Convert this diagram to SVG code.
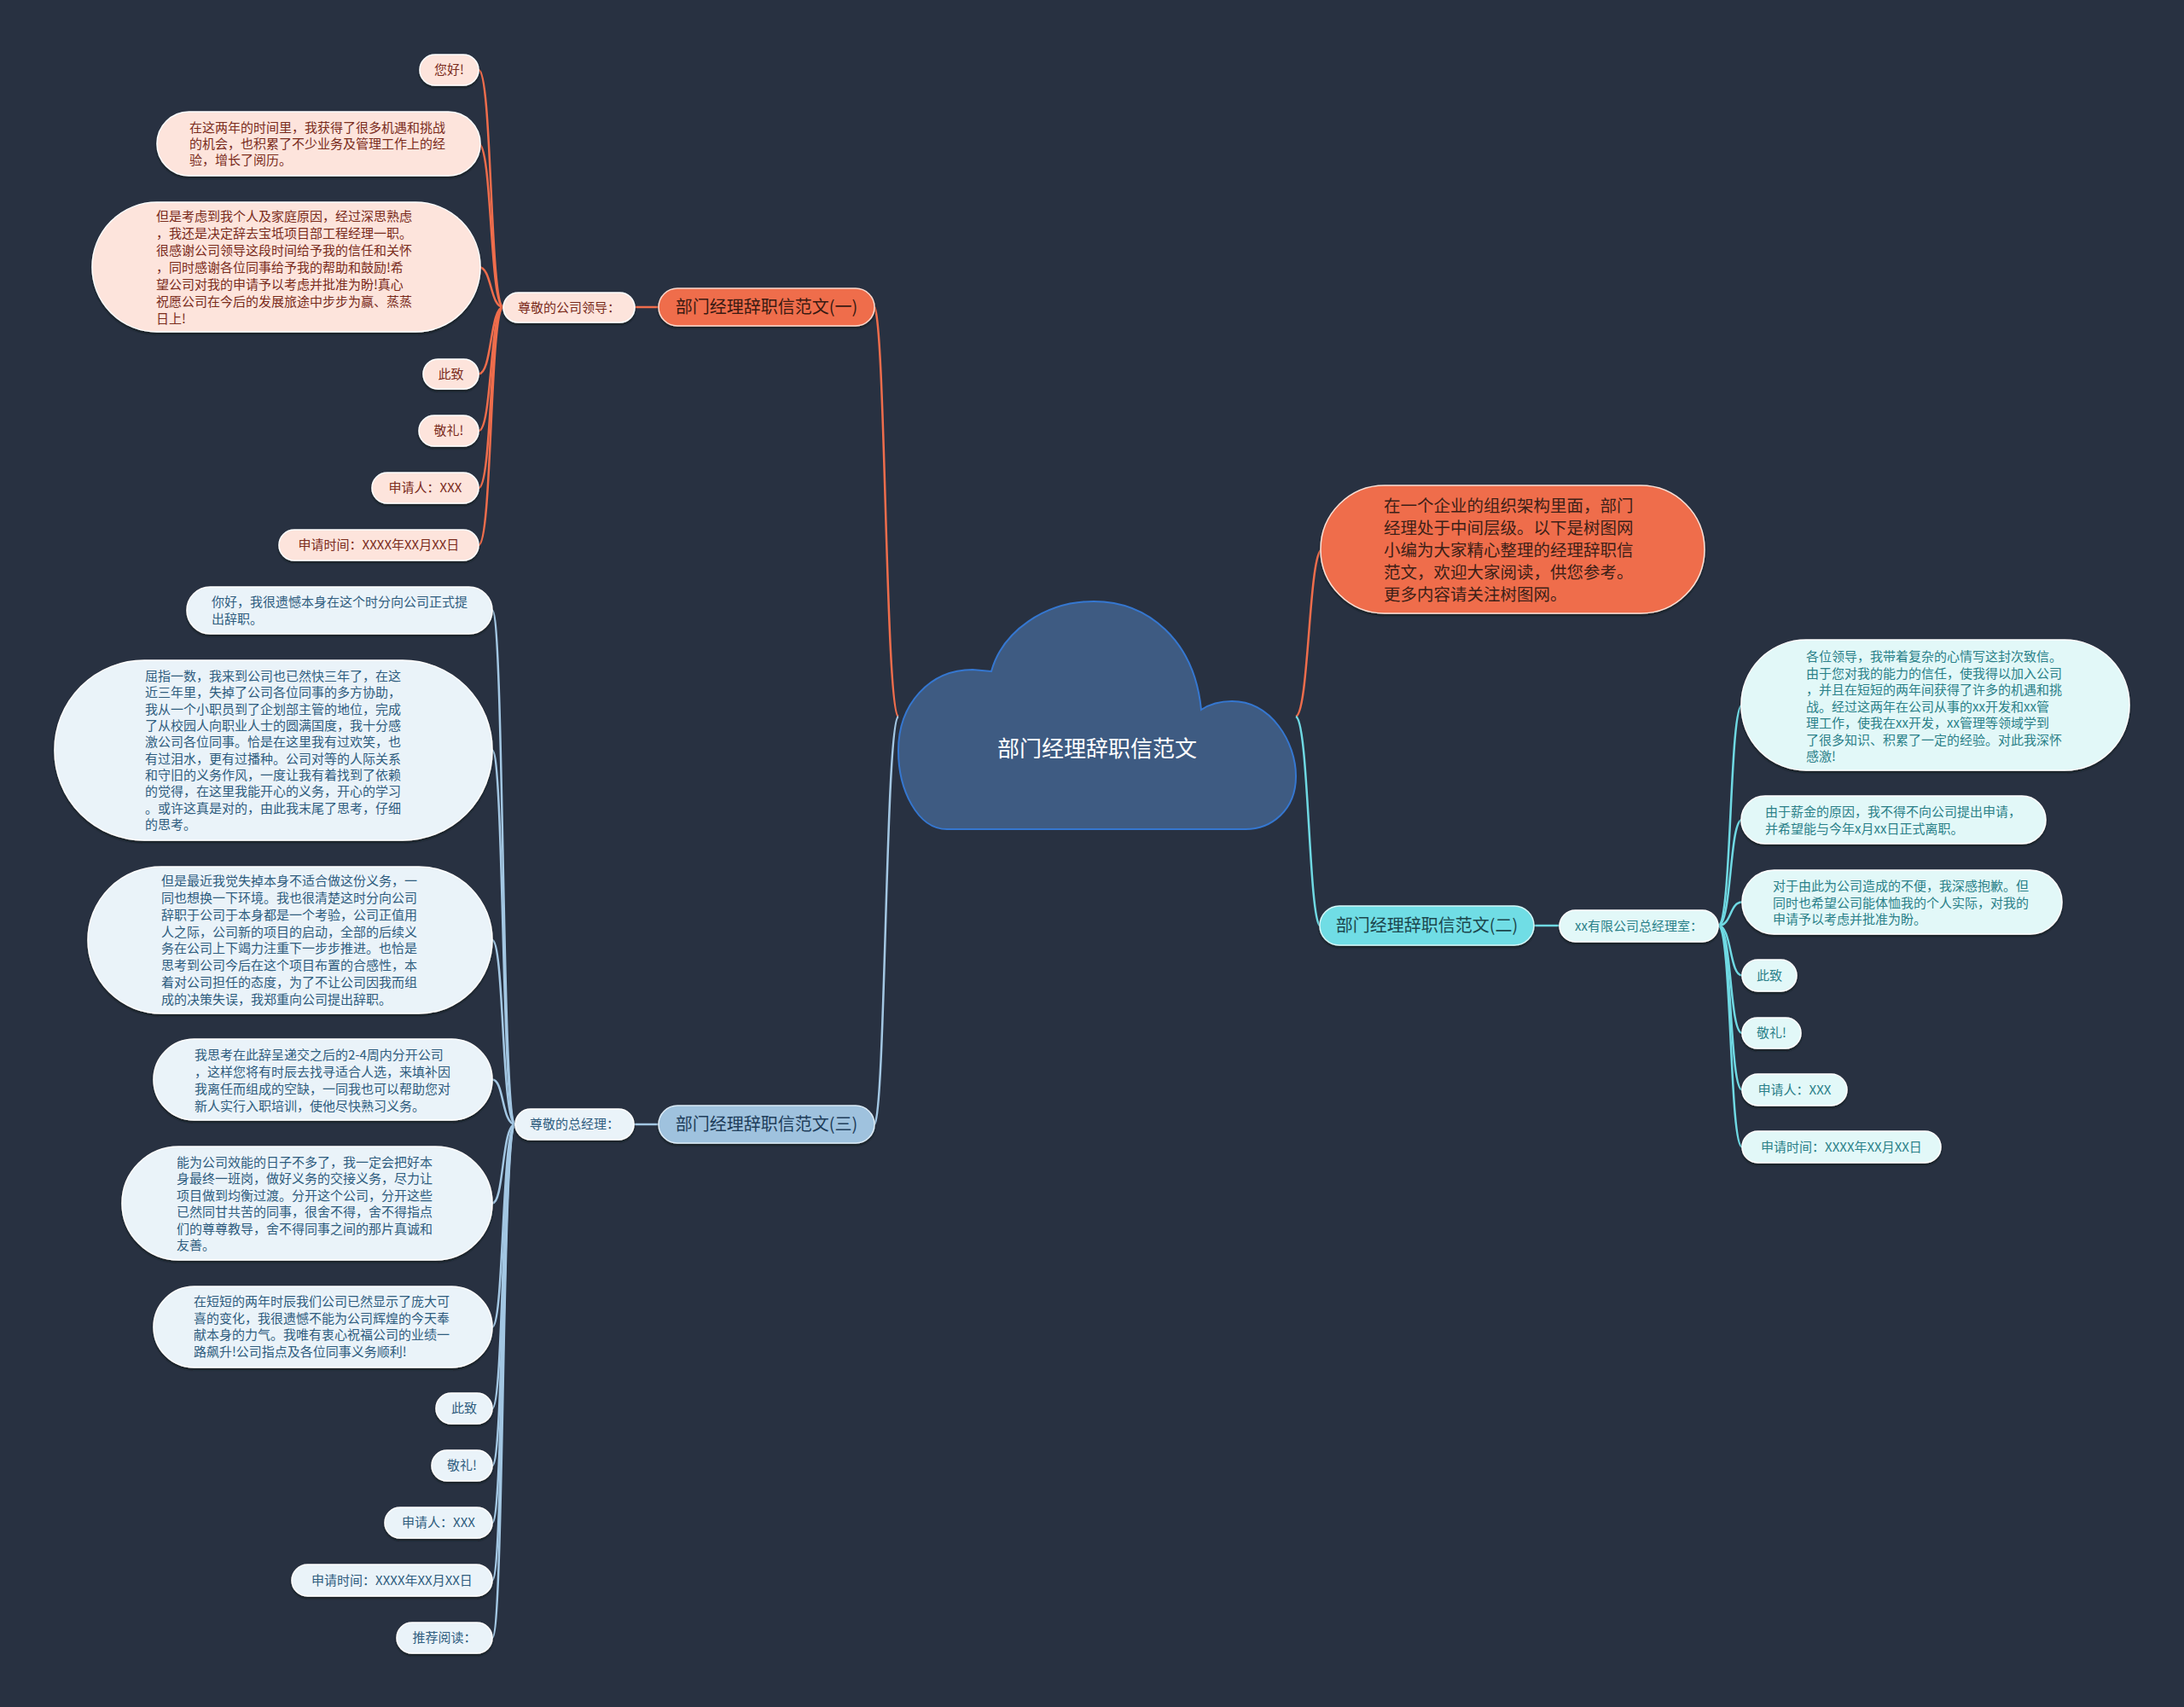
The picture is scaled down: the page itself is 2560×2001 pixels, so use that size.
<svg xmlns="http://www.w3.org/2000/svg" width="2560" height="2001" viewBox="0 0 2560 2001">
<defs>
<filter id="sh" x="-10%" y="-10%" width="120%" height="130%"><feDropShadow dx="0" dy="2" stdDeviation="1.2" flood-color="#10141c" flood-opacity="0.8"/></filter>
<style>
text{font-family:"Noto Sans CJK SC","Noto Sans",sans-serif;}
.c1{fill:none;stroke:#ef6d4c;stroke-width:2.5}
.c2{fill:none;stroke:#6fd9e3;stroke-width:2.5}
.c3{fill:none;stroke:#a3c7e3;stroke-width:2.5}
.m1{fill:#ef6d4c;stroke:#fbd8cc;stroke-width:1.5;filter:url(#sh)}
.l1{fill:#fde4dc;stroke:#ffffff;stroke-width:1.5;filter:url(#sh)}
.m2{fill:#70dde5;stroke:#d4f7f8;stroke-width:1.5;filter:url(#sh)}
.l2{fill:#e2f8f8;stroke:#ffffff;stroke-width:1.5;filter:url(#sh)}
.m3{fill:#9fc2de;stroke:#dcebf6;stroke-width:1.5;filter:url(#sh)}
.l3{fill:#eaf3f9;stroke:#ffffff;stroke-width:1.5;filter:url(#sh)}
.tm1{fill:#3a1a12;font-size:20px}
.tm2{fill:#1c474d;font-size:20px}
.tm3{fill:#1e3d5a;font-size:20px}
.t1{fill:#7a2b1b;font-size:15px}
.t2{fill:#2a8088;font-size:15px}
.t3{fill:#2e5c7e;font-size:15px}
.ti{fill:#3d1f17;font-size:19.5px}
.mid{text-anchor:middle}
</style>
</defs>
<rect x="0" y="0" width="2560" height="2001" fill="#283141"/>

<g id="connectors">
<path class="c1" d="M1053 840 C1038 835 1038 380 1025 360"/>
<path class="c1" d="M1519 840 C1534 835 1534 660 1548 645"/>
<path class="c2" d="M1519 840 C1534 845 1534 1075 1547 1085"/>
<path class="c3" d="M1053 840 C1038 845 1038 1305 1025 1318"/>
<path class="c1" d="M744 360 L772 360"/>
<path class="c2" d="M1798 1085 L1828 1085"/>
<path class="c3" d="M743 1318 L772 1318"/>
<path class="c1" d="M590 360 C574 360 577 82 561 82"/>
<path class="c1" d="M590 360 C574 360 577 168.5 561 168.5"/>
<path class="c1" d="M590 360 C574 360 577 313 561 313"/>
<path class="c1" d="M590 360 C574 360 577 438.5 561 438.5"/>
<path class="c1" d="M590 360 C574 360 577 505 561 505"/>
<path class="c1" d="M590 360 C574 360 577 572 561 572"/>
<path class="c1" d="M590 360 C574 360 577 639 561 639"/>
<path class="c2" d="M2014 1085 C2030 1085 2027 826.5 2042 826.5"/>
<path class="c2" d="M2014 1085 C2030 1085 2027 961 2042 961"/>
<path class="c2" d="M2014 1085 C2030 1085 2027 1057.5 2042 1057.5"/>
<path class="c2" d="M2014 1085 C2030 1085 2027 1143.5 2042 1143.5"/>
<path class="c2" d="M2014 1085 C2030 1085 2027 1211 2042 1211"/>
<path class="c2" d="M2014 1085 C2030 1085 2027 1277.5 2042 1277.5"/>
<path class="c2" d="M2014 1085 C2030 1085 2027 1344.5 2042 1344.5"/>
<path class="c3" d="M604 1318 C588 1318 591 715.5 577 715.5"/>
<path class="c3" d="M604 1318 C588 1318 591 879.5 577 879.5"/>
<path class="c3" d="M604 1318 C588 1318 591 1102 577 1102"/>
<path class="c3" d="M604 1318 C588 1318 591 1265.5 577 1265.5"/>
<path class="c3" d="M604 1318 C588 1318 591 1410.5 577 1410.5"/>
<path class="c3" d="M604 1318 C588 1318 591 1555.5 577 1555.5"/>
<path class="c3" d="M604 1318 C588 1318 591 1651 577 1651"/>
<path class="c3" d="M604 1318 C588 1318 591 1718 577 1718"/>
<path class="c3" d="M604 1318 C588 1318 591 1785 577 1785"/>
<path class="c3" d="M604 1318 C588 1318 591 1852.5 577 1852.5"/>
<path class="c3" d="M604 1318 C588 1318 591 1920 577 1920"/>
</g>

<g id="root">
<path d="M1110 972 C1075 972 1053 925 1053 880 C1053 825 1090 785 1140 785 L1162 787 C1175 740 1225 705 1282 705 C1345 705 1400 750 1408 832 C1420 824 1432 822 1444 822 C1490 822 1519 870 1519 910 C1519 950 1490 972 1460 972 Z" fill="#3e5b82" stroke="#3577d0" stroke-width="2"/>
<text class="mid" x="1286" y="887" fill="#ffffff" font-size="26">部门经理辞职信范文</text>
</g>

<g id="intro">
<rect x="1548" y="569" width="450" height="150" rx="75" fill="#ef6d4c" stroke="#fbe0d6" stroke-width="1.5" filter="url(#sh)"/>
<text class="ti"><tspan x="1622" y="600">在一个企业的组织架构里面，部门</tspan><tspan x="1622" y="626">经理处于中间层级。以下是树图网</tspan><tspan x="1622" y="652">小编为大家精心整理的经理辞职信</tspan><tspan x="1622" y="678">范文，欢迎大家阅读，供您参考。</tspan><tspan x="1622" y="704">更多内容请关注树图网。</tspan></text>
</g>

<g id="b1">
<rect class="m1" x="772" y="338" width="253" height="44" rx="22"/>
<text class="tm1 mid" x="898.5" y="367">部门经理辞职信范文(一)</text>
</g>
<g id="b1-sub">
<rect class="l1" x="590" y="343" width="154" height="35" rx="17.5"/>
<text class="t1 mid" x="667" y="366">尊敬的公司领导：</text>
</g>
<g id="b1-l1"><rect class="l1" x="492" y="64" width="69" height="36" rx="18"/><text class="t1 mid" x="526.5" y="87">您好!</text></g>
<g id="b1-l2"><rect class="l1" x="184" y="131" width="379" height="75" rx="37.5"/>
<text class="t1"><tspan x="222" y="155">在这两年的时间里，我获得了很多机遇和挑战</tspan><tspan x="222" y="174">的机会，也积累了不少业务及管理工作上的经</tspan><tspan x="222" y="193">验，增长了阅历。</tspan></text></g>
<g id="b1-l3"><rect class="l1" x="108" y="237" width="455" height="152" rx="76"/>
<text class="t1"><tspan x="183" y="259">但是考虑到我个人及家庭原因，经过深思熟虑</tspan><tspan x="183" y="279">，我还是决定辞去宝坻项目部工程经理一职。</tspan><tspan x="183" y="299">很感谢公司领导这段时间给予我的信任和关怀</tspan><tspan x="183" y="319">，同时感谢各位同事给予我的帮助和鼓励!希</tspan><tspan x="183" y="339">望公司对我的申请予以考虑并批准为盼!真心</tspan><tspan x="183" y="359">祝愿公司在今后的发展旅途中步步为赢、蒸蒸</tspan><tspan x="183" y="379">日上!</tspan></text></g>
<g id="b1-l4"><rect class="l1" x="496" y="421" width="65" height="35" rx="17.5"/><text class="t1 mid" x="528.5" y="444">此致</text></g>
<g id="b1-l5"><rect class="l1" x="491" y="487" width="70" height="36" rx="18"/><text class="t1 mid" x="526" y="510">敬礼!</text></g>
<g id="b1-l6"><rect class="l1" x="436" y="554" width="125" height="36" rx="18"/><text class="t1 mid" x="498.5" y="577">申请人：XXX</text></g>
<g id="b1-l7"><rect class="l1" x="327" y="621" width="234" height="36" rx="18"/><text class="t1 mid" x="444" y="644">申请时间：XXXX年XX月XX日</text></g>

<g id="b2">
<rect class="m2" x="1547" y="1062" width="251" height="46" rx="23"/>
<text class="tm2 mid" x="1672.5" y="1092">部门经理辞职信范文(二)</text>
</g>
<g id="b2-sub">
<rect class="l2" x="1828" y="1067" width="186" height="37" rx="18.5"/>
<text class="t2 mid" x="1921" y="1091">xx有限公司总经理室：</text>
</g>
<g id="b2-l1"><rect class="l2" x="2041" y="750" width="455" height="153" rx="76"/>
<text class="t2"><tspan x="2117" y="775">各位领导，我带着复杂的心情写这封次致信。</tspan><tspan x="2117" y="794.5">由于您对我的能力的信任，使我得以加入公司</tspan><tspan x="2117" y="814">，并且在短短的两年间获得了许多的机遇和挑</tspan><tspan x="2117" y="833.5">战。经过这两年在公司从事的xx开发和xx管</tspan><tspan x="2117" y="853">理工作，使我在xx开发，xx管理等领域学到</tspan><tspan x="2117" y="872.5">了很多知识、积累了一定的经验。对此我深怀</tspan><tspan x="2117" y="892">感激!</tspan></text></g>
<g id="b2-l2"><rect class="l2" x="2041" y="933" width="357" height="56" rx="28"/>
<text class="t2"><tspan x="2069" y="957">由于薪金的原因，我不得不向公司提出申请，</tspan><tspan x="2069" y="976.5">并希望能与今年x月xx日正式离职。</tspan></text></g>
<g id="b2-l3"><rect class="l2" x="2042" y="1020" width="375" height="75" rx="37.5"/>
<text class="t2"><tspan x="2078" y="1044">对于由此为公司造成的不便，我深感抱歉。但</tspan><tspan x="2078" y="1063.5">同时也希望公司能体恤我的个人实际，对我的</tspan><tspan x="2078" y="1083">申请予以考虑并批准为盼。</tspan></text></g>
<g id="b2-l4"><rect class="l2" x="2042" y="1125" width="64" height="37" rx="18.5"/><text class="t2 mid" x="2074" y="1149">此致</text></g>
<g id="b2-l5"><rect class="l2" x="2042" y="1193" width="69" height="36" rx="18"/><text class="t2 mid" x="2076.5" y="1216">敬礼!</text></g>
<g id="b2-l6"><rect class="l2" x="2042" y="1259" width="123" height="37" rx="18.5"/><text class="t2 mid" x="2103.5" y="1283">申请人：XXX</text></g>
<g id="b2-l7"><rect class="l2" x="2042" y="1326" width="233" height="37" rx="18.5"/><text class="t2 mid" x="2158.5" y="1350">申请时间：XXXX年XX月XX日</text></g>

<g id="b3">
<rect class="m3" x="772" y="1296" width="253" height="44" rx="22"/>
<text class="tm3 mid" x="898.5" y="1325">部门经理辞职信范文(三)</text>
</g>
<g id="b3-sub">
<rect class="l3" x="604" y="1300" width="139" height="36" rx="18"/>
<text class="t3 mid" x="673.5" y="1323">尊敬的总经理：</text>
</g>
<g id="b3-l1"><rect class="l3" x="219" y="688" width="358" height="55" rx="27.5"/>
<text class="t3"><tspan x="248" y="711">你好，我很遗憾本身在这个时分向公司正式提</tspan><tspan x="248" y="730.5">出辞职。</tspan></text></g>
<g id="b3-l2"><rect class="l3" x="64" y="774" width="513" height="211" rx="105"/>
<text class="t3"><tspan x="170" y="798">屈指一数，我来到公司也已然快三年了，在这</tspan><tspan x="170" y="817.3">近三年里，失掉了公司各位同事的多方协助，</tspan><tspan x="170" y="836.7">我从一个小职员到了企划部主管的地位，完成</tspan><tspan x="170" y="856">了从校园人向职业人士的圆满国度，我十分感</tspan><tspan x="170" y="875.3">激公司各位同事。恰是在这里我有过欢笑，也</tspan><tspan x="170" y="894.7">有过泪水，更有过播种。公司对等的人际关系</tspan><tspan x="170" y="914">和守旧的义务作风，一度让我有着找到了依赖</tspan><tspan x="170" y="933.3">的觉得，在这里我能开心的义务，开心的学习</tspan><tspan x="170" y="952.7">。或许这真是对的，由此我末尾了思考，仔细</tspan><tspan x="170" y="972">的思考。</tspan></text></g>
<g id="b3-l3"><rect class="l3" x="103" y="1016" width="474" height="172" rx="86"/>
<text class="t3"><tspan x="189" y="1038">但是最近我觉失掉本身不适合做这份义务，一</tspan><tspan x="189" y="1057.9">同也想换一下环境。我也很清楚这时分向公司</tspan><tspan x="189" y="1077.7">辞职于公司于本身都是一个考验，公司正值用</tspan><tspan x="189" y="1097.6">人之际，公司新的项目的启动，全部的后续义</tspan><tspan x="189" y="1117.4">务在公司上下竭力注重下一步步推进。也恰是</tspan><tspan x="189" y="1137.3">思考到公司今后在这个项目布置的合感性，本</tspan><tspan x="189" y="1157.1">着对公司担任的态度，为了不让公司因我而组</tspan><tspan x="189" y="1177">成的决策失误，我郑重向公司提出辞职。</tspan></text></g>
<g id="b3-l4"><rect class="l3" x="180" y="1218" width="397" height="95" rx="47.5"/>
<text class="t3"><tspan x="228" y="1242">我思考在此辞呈递交之后的2-4周内分开公司</tspan><tspan x="228" y="1262">，这样您将有时辰去找寻适合人选，来填补因</tspan><tspan x="228" y="1282">我离任而组成的空缺，一同我也可以帮助您对</tspan><tspan x="228" y="1302">新人实行入职培训，使他尽快熟习义务。</tspan></text></g>
<g id="b3-l5"><rect class="l3" x="143" y="1344" width="434" height="133" rx="66.5"/>
<text class="t3"><tspan x="207" y="1368">能为公司效能的日子不多了，我一定会把好本</tspan><tspan x="207" y="1387.4">身最终一班岗，做好义务的交接义务，尽力让</tspan><tspan x="207" y="1406.8">项目做到均衡过渡。分开这个公司，分开这些</tspan><tspan x="207" y="1426.2">已然同甘共苦的同事，很舍不得，舍不得指点</tspan><tspan x="207" y="1445.6">们的尊尊教导，舍不得同事之间的那片真诚和</tspan><tspan x="207" y="1465">友善。</tspan></text></g>
<g id="b3-l6"><rect class="l3" x="180" y="1508" width="397" height="95" rx="47.5"/>
<text class="t3"><tspan x="227" y="1531">在短短的两年时辰我们公司已然显示了庞大可</tspan><tspan x="227" y="1550.7">喜的变化，我很遗憾不能为公司辉煌的今天奉</tspan><tspan x="227" y="1570.3">献本身的力气。我唯有衷心祝福公司的业绩一</tspan><tspan x="227" y="1590">路飙升!公司指点及各位同事义务顺利!</tspan></text></g>
<g id="b3-l7"><rect class="l3" x="511" y="1633" width="66" height="36" rx="18"/><text class="t3 mid" x="544" y="1656">此致</text></g>
<g id="b3-l8"><rect class="l3" x="506" y="1700" width="71" height="36" rx="18"/><text class="t3 mid" x="541.5" y="1723">敬礼!</text></g>
<g id="b3-l9"><rect class="l3" x="451" y="1767" width="126" height="36" rx="18"/><text class="t3 mid" x="514" y="1790">申请人：XXX</text></g>
<g id="b3-l10"><rect class="l3" x="342" y="1834" width="235" height="37" rx="18.5"/><text class="t3 mid" x="459.5" y="1858">申请时间：XXXX年XX月XX日</text></g>
<g id="b3-l11"><rect class="l3" x="465" y="1902" width="112" height="36" rx="18"/><text class="t3 mid" x="521" y="1925">推荐阅读：</text></g>
</svg>
